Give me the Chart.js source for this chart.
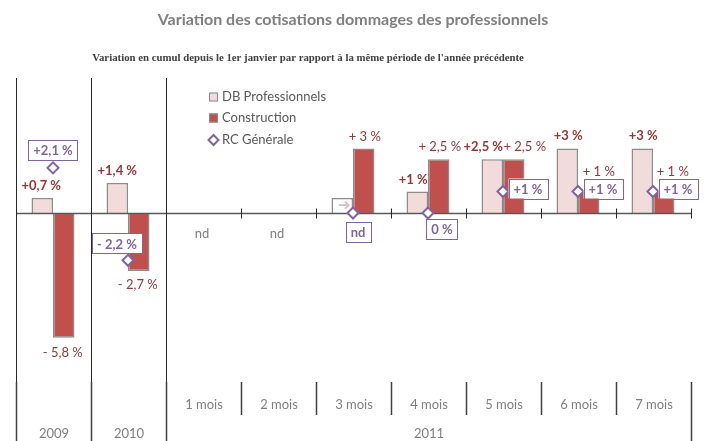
<!DOCTYPE html>
<html>
<head>
<meta charset="utf-8">
<script src="https://cdn.jsdelivr.net/npm/chart.js@4"></script>
<style>
  body { margin: 0; background: #fff; }
  #wrap { width: 705px; height: 441px; }
</style>
</head>
<body>
<div id="wrap"><canvas id="myChart" width="705" height="441"></canvas></div>
<script>
// data
const categories = ["2009", "2010", "1 mois", "2 mois", "3 mois", "4 mois", "5 mois", "6 mois", "7 mois"];
const monthLabels = ["", "", "1 mois", "2 mois", "3 mois", "4 mois", "5 mois", "6 mois", "7 mois"];
const yearLabels = ["2009", "2010", "2011"];
const yearSpan = [1, 1, 7];
const dbPro = [0.7, 1.4, null, null, 0.7, 1, 2.5, 3, 3];
const construction = [-5.8, -2.7, null, null, 3, 2.5, 2.5, 1, 1];
const rcGenerale = [2.1, -2.2, null, null, 0, 0, 1, 1, 1];
const dbText = ["+0,7 %", "+1,4 %", "", "", "", "+1 %", "+2,5 %", "+3 %", "+3 %"];
const conText = ["- 5,8 %", "- 2,7 %", "", "", "+ 3 %", "+ 2,5 %", "+ 2,5 %", "+ 1 %", "+ 1 %"];
const rcText = ["+2,1 %", "- 2,2 %", "", "", "nd", "0 %", "+1 %", "+1 %", "+1 %"];

const FONT = "Lato, 'Open Sans', sans-serif";
const RED_TXT = "#953735";
const PURPLE = "#8064a2";

// label nudges [dx, dy] relative to the mark
const dbOff = [[-1, -12], [0, -12], null, null, null, [-4, -12], [-9, -12], [1, -13], [1, -13]];
const conOff = [[-1, 15], [-1, 14], null, null, [1, -12], [1, -12], [11, -12], [10, -20], [9, -20]];
const rcOff = [[0, -18], [-11, -17], null, null, [5, 19], [14, 16], [25, -3], [25, -3], [25, -3]];

function bounds(chart) {
	const a = chart.chartArea;
	const w = (a.right - a.left) / categories.length;
	const out = [];
	for (let i = 0; i <= categories.length; i++) out.push(Math.round(a.left + i * w) + 0.5);
	return out;
}

function line(ctx, x1, y1, x2, y2, color, width) {
	ctx.beginPath();
	ctx.strokeStyle = color;
	ctx.lineWidth = width;
	ctx.moveTo(x1, y1);
	ctx.lineTo(x2, y2);
	ctx.stroke();
}

const decor = {
	id: "decor",
	afterDatasetDraw(chart, args) {
		// zero line goes over the bars but under the diamonds
		if (args.index !== 0) return;
		const ctx = chart.ctx;
		const b = bounds(chart);
		const y0 = Math.round(chart.scales.y.getPixelForValue(0)) + 0.5;
		ctx.save();
		line(ctx, b[0], y0, b[b.length - 1], y0, "#595959", 1.5);
		for (let i = 3; i < b.length; i++) line(ctx, b[i], y0 - 5, b[i], y0 + 5, "#262626", 1);
		ctx.restore();
	},
	afterDraw(chart) {
		const ctx = chart.ctx;
		const a = chart.chartArea;
		const b = bounds(chart);
		const H = chart.height;
		ctx.save();

		// titles
		ctx.textAlign = "center";
		ctx.textBaseline = "middle";
		ctx.fillStyle = "#7f7f7f";
		ctx.font = "bold 16px " + FONT;
		ctx.fillText("Variation des cotisations dommages des professionnels", 353, 20);
		ctx.fillStyle = "#404040";
		ctx.font = "bold 10.8px 'Liberation Serif', serif";
		ctx.fillText("Variation en cumul depuis le 1er janvier par rapport à la même période de l'année précédente", 308, 58);

		// separators
		for (let i = 0; i < 3; i++) {
			line(ctx, b[i], a.top, b[i], a.bottom, "#262626", 1);
			line(ctx, b[i], a.bottom, b[i], H, "#404040", 1.5);
		}
		for (let i = 3; i < b.length - 1; i++) line(ctx, b[i], a.bottom, b[i], a.bottom + 33, "#404040", 1.5);
		line(ctx, b[b.length - 1], a.bottom, b[b.length - 1], H, "#404040", 1.5);

		// category labels (two rows)
		ctx.fillStyle = "#7f7f7f";
		ctx.font = "13px " + FONT;
		monthLabels.forEach((t, i) => ctx.fillText(t, (b[i] + b[i + 1]) / 2, a.bottom + 23));
		let k = 0;
		yearLabels.forEach((t, j) => {
			ctx.fillText(t, (b[k] + b[k + yearSpan[j]]) / 2, a.bottom + 52);
			k += yearSpan[j];
		});

		// "nd" where there is no data
		const y0 = chart.scales.y.getPixelForValue(0);
		construction.forEach((v, i) => {
			if (v === null) ctx.fillText("nd", (b[i] + b[i + 1]) / 2 - 2, y0 + 21);
		});

		// bar labels
		const mDb = chart.getDatasetMeta(0).data;
		const mCon = chart.getDatasetMeta(1).data;
		ctx.fillStyle = RED_TXT;
		ctx.font = "bold 13px " + FONT;
		dbText.forEach((t, i) => {
			if (!t) return;
			const el = mDb[i];
			ctx.fillText(t, el.x + dbOff[i][0], el.y + dbOff[i][1]);
		});
		ctx.font = "13px " + FONT;
		conText.forEach((t, i) => {
			if (!t) return;
			const el = mCon[i];
			ctx.fillText(t, el.x + conOff[i][0], el.y + conOff[i][1]);
		});
		// arrow inside the 3 mois DB bar
		ctx.fillStyle = "#e6b9b8";
		ctx.font = "bold 15px 'DejaVu Sans', sans-serif";
		ctx.fillText("➔", mDb[4].x + 2, mDb[4].y + 8);

		// RC boxed labels
		const mRc = chart.getDatasetMeta(2).data;
		ctx.font = "bold 13px " + FONT;
		rcText.forEach((t, i) => {
			if (!t) return;
			const el = mRc[i];
			const cx = el.x + rcOff[i][0];
			const cy = el.y + rcOff[i][1];
			const w = ctx.measureText(t).width + 10;
			const h = 20;
			ctx.fillStyle = "#fff";
			ctx.fillRect(cx - w / 2, cy - h / 2, w, h);
			ctx.strokeStyle = PURPLE;
			ctx.lineWidth = 1;
			ctx.strokeRect(Math.round(cx - w / 2) + 0.5, Math.round(cy - h / 2) + 0.5, Math.round(w), h);
			ctx.fillStyle = PURPLE;
			ctx.fillText(t, cx, cy + 1);
		});

		// legend
		const lx = 209;
		const ly = [97, 118, 140];
		ctx.textAlign = "left";
		ctx.font = "13px " + FONT;
		chart.data.datasets.forEach((ds, i) => {
			if (i < 2) {
				ctx.fillStyle = ds.legendFill;
				ctx.fillRect(lx, ly[i] - 4.5, 9, 9);
				ctx.strokeStyle = "#8c8c8c";
				ctx.lineWidth = 1;
				ctx.strokeRect(lx + 0.5, ly[i] - 4, 8, 8);
			} else {
				ctx.beginPath();
				ctx.moveTo(lx + 4.5, ly[i] - 5);
				ctx.lineTo(lx + 9.5, ly[i]);
				ctx.lineTo(lx + 4.5, ly[i] + 5);
				ctx.lineTo(lx - 0.5, ly[i]);
				ctx.closePath();
				ctx.fillStyle = "#fff";
				ctx.fill();
				ctx.strokeStyle = PURPLE;
				ctx.lineWidth = 2;
				ctx.stroke();
			}
			ctx.fillStyle = "#595959";
			ctx.fillText(ds.label, lx + 13, ly[i]);
		});
		ctx.restore();
	}
};

const ctx = document.getElementById("myChart").getContext("2d");
const myChart = new Chart(ctx, {
	type: "bar",
	data: {
		labels: categories,
		datasets: [
			{
				label: "DB Professionnels",
				data: dbPro,
				backgroundColor: (c) => (c.dataIndex === 4 ? "#ffffff" : "#f2dcdb"),
				legendFill: "#f2dcdb",
				borderColor: "#8c8c8c",
				borderWidth: 1.5,
				order: 1,
			},
			{
				label: "Construction",
				data: construction,
				backgroundColor: "#c0504d",
				legendFill: "#c0504d",
				borderColor: "#8c8c8c",
				borderWidth: 1.5,
				order: 1,
			},
			{
				type: "line",
				label: "RC Générale",
				data: rcGenerale,
				showLine: false,
				pointStyle: "rectRot",
				pointRadius: 5.5,
				pointBorderWidth: 2,
				pointBorderColor: PURPLE,
				pointBackgroundColor: "#ffffff",
				order: 0,
			},
		],
	},
	options: {
		responsive: false,
		animation: false,
		devicePixelRatio: 1,
		categoryPercentage: 0.573,
		barPercentage: 1,
		layout: { padding: { left: 15.5, right: 14.5, top: 78, bottom: 59 } },
		plugins: {
			legend: { display: false },
			tooltip: { enabled: false },
		},
		scales: {
			x: { display: false },
			y: { display: false, min: -7.86, max: 6.28 },
		},
	},
	plugins: [decor],
});
</script>
</body>
</html>
